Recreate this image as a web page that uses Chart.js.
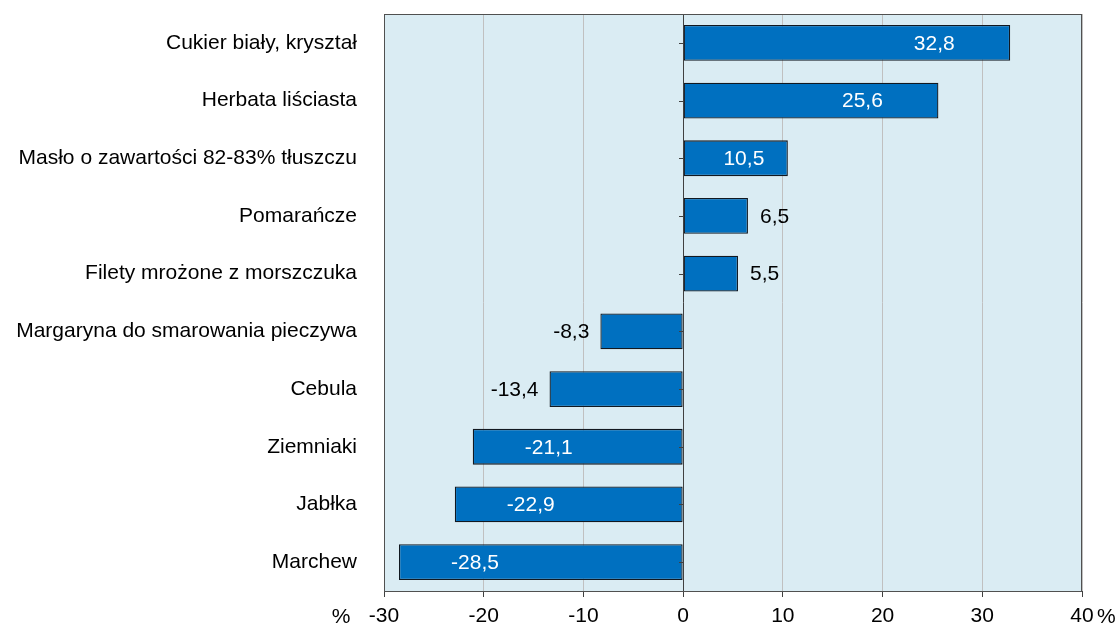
<!DOCTYPE html>
<html><head><meta charset="utf-8">
<script src="https://cdn.jsdelivr.net/npm/chart.js@4"></script>
<style>html,body{margin:0;padding:0;background:#fff}#wrap{width:1115px;height:625px}</style>
</head><body><div id="wrap"><canvas id="c" width="1115" height="625"></canvas></div>
<script>
const categories = ["Cukier biały, kryształ","Herbata liściasta","Masło o zawartości 82-83% tłuszczu","Pomarańcze","Filety mrożone z morszczuka","Margaryna do smarowania pieczywa","Cebula","Ziemniaki","Jabłka","Marchew"];
const values = [32.8,25.6,10.5,6.5,5.5,-8.3,-13.4,-21.1,-22.9,-28.5];
const xTicks = [-30,-20,-10,0,10,20,30,40];
const unitLabel = "%";
const FONT = "'Liberation Sans', Arial, sans-serif";
const FS = 21;

const deco = {
  id:'deco',
  beforeDraw(chart){
    const {ctx, chartArea:a} = chart;
    ctx.save(); ctx.fillStyle='#DAECF3'; ctx.fillRect(a.left,a.top,a.right-a.left,a.bottom-a.top); ctx.restore();
  },
  afterDatasetsDraw(chart){
    const {ctx, chartArea:a, scales} = chart;
    const x0 = scales.x.getPixelForValue(0);
    ctx.save();
    ctx.strokeStyle='#404040'; ctx.lineWidth=1;
    ctx.beginPath(); ctx.moveTo(Math.round(x0)+0.5,a.top); ctx.lineTo(Math.round(x0)+0.5,a.bottom); ctx.stroke();
    const n = categories.length;
    for(let i=0;i<n;i++){
      const y = Math.round(scales.y.getPixelForValue(i))+0.5;
      ctx.beginPath(); ctx.moveTo(Math.round(x0)-4,y); ctx.lineTo(Math.round(x0),y); ctx.stroke();
    }
    ctx.strokeStyle='#505050';
    ctx.strokeRect(Math.round(a.left)+0.5,Math.round(a.top)+0.5,Math.round(a.right-a.left)-1,Math.round(a.bottom-a.top));
    ctx.font = FS+"px "+FONT; ctx.textBaseline='middle';
    const meta = chart.getDatasetMeta(0);
    meta.data.forEach((bar,i)=>{
      const v = values[i];
      const txt = v.toFixed(1).replace('.',',');
      const w = Math.abs(bar.x - x0);
      const y = bar.y+1;
      const inside = v >= 10 || v <= -20;
      if(inside){
        ctx.fillStyle='#ffffff'; ctx.textAlign='center';
        const off = Math.min(76, w*0.42);
        const cx = v>0 ? bar.x - off : bar.x + off;
        ctx.fillText(txt,cx,y);
      } else {
        ctx.fillStyle='#000000';
        if(v>0){ctx.textAlign='left'; ctx.fillText(txt,bar.x+12,y);}
        else {ctx.textAlign='right'; ctx.fillText(txt,bar.x-11,y);}
      }
    });
    ctx.fillStyle='#000'; ctx.textBaseline='middle';
    ctx.font = FS+"px "+FONT;
    const ty = a.bottom + 26;
    ctx.textAlign='center'; ctx.fillText(unitLabel, a.left-43, ty);
    ctx.textAlign='left'; ctx.fillText(unitLabel, a.right+15, ty);
    ctx.restore();
  }
};

new Chart(document.getElementById('c'),{
  type:'bar',
  data:{labels:categories,datasets:[{data:values,backgroundColor:'#0070C0',borderColor:'#111820',borderWidth:1.3,borderSkipped:false,barPercentage:0.62,categoryPercentage:1}]},
  options:{
    indexAxis:'y', responsive:false, animation:false,
    layout:{autoPadding:false,padding:{top:14,right:33,left:0,bottom:0}},
    plugins:{legend:{display:false},tooltip:{enabled:false}},
    scales:{
      x:{min:-30,max:40,
        afterBuildTicks(s){s.ticks = xTicks.map(v=>({value:v}));},
        afterFit(s){s.height=34;},
        grid:{color:'#c0c0c0',tickColor:'#404040',tickLength:6,drawOnChartArea:true},
        border:{display:false},
        ticks:{font:{family:FONT,size:FS},color:'#000',padding:7,maxRotation:0}
      },
      y:{
        afterFit(s){s.width=384;},
        grid:{display:true,drawOnChartArea:false,drawTicks:true,tickLength:27,tickColor:'rgba(0,0,0,0)'},
        border:{display:false},
        ticks:{font:{family:FONT,size:FS},color:'#000',padding:0}
      }
    }
  },
  plugins:[deco]
});
</script></body></html>
